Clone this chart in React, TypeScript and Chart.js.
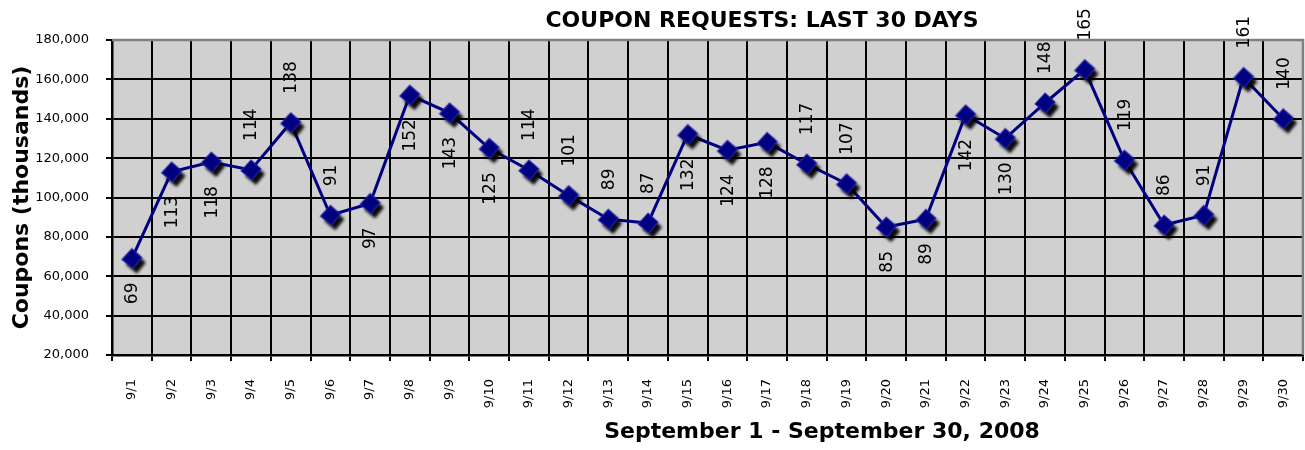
import React, { useEffect, useRef } from 'react';
import { Chart, registerables } from 'chart.js';

Chart.register(...registerables);

const chartTitle = 'COUPON REQUESTS: LAST 30 DAYS';
const xAxisTitle = 'September 1 - September 30, 2008';
const yAxisTitle = 'Coupons (thousands)';

const categories = [
  '9/1', '9/2', '9/3', '9/4', '9/5', '9/6', '9/7', '9/8', '9/9', '9/10',
  '9/11', '9/12', '9/13', '9/14', '9/15', '9/16', '9/17', '9/18', '9/19', '9/20',
  '9/21', '9/22', '9/23', '9/24', '9/25', '9/26', '9/27', '9/28', '9/29', '9/30',
];

const couponRequests = [
  69000, 113000, 118000, 114000, 138000, 91000, 97000, 152000, 143000, 125000,
  114000, 101000, 89000, 87000, 132000, 124000, 128000, 117000, 107000, 85000,
  89000, 142000, 130000, 148000, 165000, 119000, 86000, 91000, 161000, 140000,
];

// where each value label sits relative to its point
const labelPlacement = [
  'below', 'below', 'below', 'above', 'above', 'above', 'below', 'below', 'below', 'below',
  'above', 'above', 'above', 'above', 'below', 'below', 'below', 'above', 'above', 'below',
  'below', 'below', 'below', 'above', 'above', 'above', 'above', 'above', 'above', 'above',
];

const yMin = 20000;
const yMax = 180000;
const yStep = 20000;

const FONT = '"DejaVu Sans", Verdana, sans-serif';

function makeMarker(): HTMLCanvasElement {
  const c = document.createElement('canvas');
  c.width = 44;
  c.height = 44;
  const g = c.getContext('2d')!;
  const cx = 22;
  const cy = 22;
  const r = 10;
  const diamond = () => {
    g.beginPath();
    g.moveTo(cx, cy - r);
    g.lineTo(cx + r, cy - 1);
    g.lineTo(cx + 1, cy + r);
    g.lineTo(cx - r, cy + 1);
    g.closePath();
  };
  g.save();
  g.shadowColor = 'rgba(0,0,0,0.95)';
  g.shadowOffsetX = 4;
  g.shadowOffsetY = 5;
  g.shadowBlur = 3;
  diamond();
  g.fillStyle = '#000080';
  g.fill();
  g.restore();
  diamond();
  g.lineWidth = 1.2;
  g.strokeStyle = 'rgba(40,40,170,0.8)';
  g.stroke();
  return c;
}

const backgroundPlugin = {
  id: 'plotBackground',
  beforeDraw(chart: any) {
    const { ctx, chartArea } = chart;
    ctx.save();
    ctx.fillStyle = '#ffffff';
    ctx.fillRect(0, 0, chart.width, chart.height);
    ctx.fillStyle = '#d0d0d0';
    ctx.fillRect(chartArea.left, chartArea.top, chartArea.right - chartArea.left, chartArea.bottom - chartArea.top);
    ctx.restore();
  },
  beforeDatasetsDraw(chart: any) {
    const { ctx, chartArea } = chart;
    ctx.save();
    ctx.strokeStyle = '#808080';
    ctx.lineWidth = 2.5;
    ctx.beginPath();
    ctx.moveTo(chartArea.left, chartArea.top);
    ctx.lineTo(chartArea.right, chartArea.top);
    ctx.lineTo(chartArea.right, chartArea.bottom);
    ctx.stroke();
    ctx.restore();
  },
};

const valueLabelPlugin = {
  id: 'valueLabels',
  afterDatasetsDraw(chart: any) {
    const { ctx } = chart;
    const meta = chart.getDatasetMeta(0);
    ctx.save();
    ctx.font = `17px ${FONT}`;
    ctx.fillStyle = '#000000';
    ctx.textBaseline = 'middle';
    meta.data.forEach((pt: any, i: number) => {
      const text = String(Math.round(couponRequests[i] / 1000));
      const above = labelPlacement[i] === 'above';
      ctx.save();
      ctx.translate(pt.x + 1, above ? pt.y - 29 : pt.y + 24);
      ctx.rotate(-Math.PI / 2);
      ctx.textAlign = above ? 'left' : 'right';
      ctx.fillText(text, 0, 0);
      ctx.restore();
    });
    ctx.restore();
  },
};

const titlesPlugin = {
  id: 'titles',
  afterDraw(chart: any) {
    const { ctx } = chart;
    ctx.save();
    ctx.fillStyle = '#000000';
    ctx.textAlign = 'center';
    ctx.textBaseline = 'alphabetic';
    ctx.font = `bold 22px ${FONT}`;
    ctx.fillText(chartTitle, 762, 27);
    ctx.fillText(xAxisTitle, 822, 438);
    ctx.restore();
  },
};

export default function App() {
  const canvasRef = useRef<HTMLCanvasElement | null>(null);

  useEffect(() => {
    if (!canvasRef.current) return;
    const marker = makeMarker();
    const chart = new Chart(canvasRef.current, {
      type: 'line',
      data: {
        labels: categories,
        datasets: [
          {
            data: couponRequests,
            borderColor: '#000080',
            borderWidth: 3,
            tension: 0,
            fill: false,
            pointStyle: marker as any,
            pointRadius: 10,
            pointHoverRadius: 10,
            clip: false as any,
          },
        ],
      },
      options: {
        animation: false,
        responsive: true,
        maintainAspectRatio: false,
        events: [],
        layout: { padding: { top: 40, right: 2, left: 0, bottom: 0 } },
        plugins: {
          legend: { display: false },
          title: { display: false },
          tooltip: { enabled: false },
        },
        scales: {
          x: {
            type: 'category',
            offset: true,
            grid: {
              offset: true,
              color: '#000000',
              lineWidth: 2,
              tickLength: 6,
              drawTicks: true,
            },
            border: { color: '#000000', width: 2.5 },
            ticks: {
              color: '#000000',
              font: { family: FONT, size: 13 },
              minRotation: 90,
              maxRotation: 90,
              autoSkip: false,
              padding: 18,
            },
            afterFit(scale: any) {
              scale.height = 95;
              scale.paddingLeft = 0;
              scale.paddingRight = 0;
            },
          },
          y: {
            min: yMin,
            max: yMax,
            grid: {
              color: '#000000',
              lineWidth: 2,
              tickLength: 6,
            },
            border: { color: '#000000', width: 2.5 },
            ticks: {
              stepSize: yStep,
              color: '#000000',
              font: { family: FONT, size: 13 },
              padding: 17,
              callback: (v: any) => Number(v).toLocaleString('en-US'),
            },
            title: {
              display: true,
              text: yAxisTitle,
              color: '#000000',
              font: { family: FONT, size: 22, weight: 'bold' },
              padding: { top: 9, bottom: 0 },
            },
            afterFit(scale: any) {
              scale.width = 112;
              scale.paddingTop = 0;
              scale.paddingBottom = 0;
            },
          },
        },
      },
      plugins: [backgroundPlugin, valueLabelPlugin, titlesPlugin],
    });
    return () => chart.destroy();
  }, []);

  return (
    <div style={{ position: 'fixed', left: 0, top: 0, width: 1316, height: 450, background: '#fff' }}>
      <canvas ref={canvasRef} />
    </div>
  );
}
